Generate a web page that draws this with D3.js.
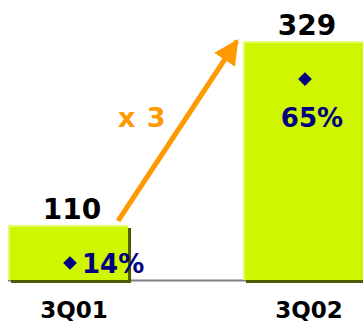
<!DOCTYPE html>
<html><head><meta charset="utf-8">
<script src="https://cdn.jsdelivr.net/npm/d3@7"></script>
<style>html,body{margin:0;padding:0;background:#fff;}svg{display:block;}</style>
</head><body>
<script>
const categories = ["3Q01", "3Q02"];
const values = [110, 329];
const percents = [14, 65];
const growthLabel = "x 3";

const W = 363, H = 327;
const svg = d3.select("body").append("svg").attr("width", W).attr("height", H);
const font = "'DejaVu Sans', Verdana, sans-serif";

const x = d3.scaleBand().domain(categories).range([8, 363]).paddingInner(0.489).paddingOuter(0);
const y = d3.scaleLinear().domain([44.5, 329]).range([280, 41]);
const y2 = d3.scaleLinear().domain([0, 80]).range([313.5, 25]);

// axis line
svg.append("line").attr("x1", 8).attr("x2", W).attr("y1", 280.5).attr("y2", 280.5)
  .attr("stroke", "#808080").attr("stroke-width", 2);

const g = svg.selectAll("g.bar").data(categories).enter().append("g").attr("class", "bar");
// shadow
g.append("rect").attr("x", d => x(d) + 3).attr("y", (d, i) => y(values[i]) + 3)
  .attr("width", x.bandwidth()).attr("height", (d, i) => 280 - y(values[i]))
  .attr("fill", "#4f5a00");
// main
g.append("rect").attr("x", d => x(d)).attr("y", (d, i) => y(values[i]))
  .attr("width", x.bandwidth()).attr("height", (d, i) => 280 - y(values[i]))
  .attr("fill", "#d0f500");
// highlight edges
g.append("path").attr("d", (d, i) => `M${x(d) + 1},280 V${y(values[i]) + 1} H${x(d) + x.bandwidth()}`)
  .attr("fill", "none").attr("stroke", "#e4fa70").attr("stroke-width", 2);

// value labels
g.append("text").attr("x", d => x(d) + x.bandwidth() / 2 + 4).attr("y", (d, i) => y(values[i]) - 6)
  .attr("text-anchor", "middle").attr("font-family", font).attr("font-weight", "bold")
  .attr("font-size", 28).attr("fill", "#000").text((d, i) => values[i]);

// category labels
g.append("text").attr("x", d => x(d) + x.bandwidth() / 2 + 6).attr("y", 318)
  .attr("text-anchor", "middle").attr("font-family", font).attr("font-weight", "bold")
  .attr("font-size", 23).attr("fill", "#000").text(d => d);

// diamonds
const diamond = d3.symbol().type(d3.symbolDiamond2).size(120);
g.append("path").attr("d", diamond)
  .attr("transform", (d, i) => `translate(${i === 0 ? x(d) + 62 : x(d) + x.bandwidth() / 2 + 2},${y2(percents[i])})`)
  .attr("fill", "#000080");

// percent labels
g.append("text")
  .attr("x", (d, i) => i === 0 ? x(d) + 74 : x(d) + x.bandwidth() / 2 + 9)
  .attr("y", (d, i) => i === 0 ? y2(percents[i]) + 10 : y2(percents[i]) + 48)
  .attr("text-anchor", (d, i) => i === 0 ? "start" : "middle")
  .attr("font-family", font).attr("font-weight", "bold").attr("font-size", 26)
  .attr("fill", "#000080").text((d, i) => percents[i] + "%");

// growth arrow
const defs = svg.append("defs");
defs.append("marker").attr("id", "ah").attr("viewBox", "0 0 10 10").attr("refX", 9).attr("refY", 5)
  .attr("markerWidth", 5).attr("markerHeight", 5).attr("orient", "auto").attr("markerUnits", "strokeWidth")
  .append("path").attr("d", "M0,0 L10,5 L0,10 Z").attr("fill", "#ff9900");
const x0 = x(categories[0]) + x.bandwidth() - 10, y0 = y(values[0]) - 4;
const x1 = x(categories[1]) - 6, y1 = y(values[1]);
svg.append("line").attr("x1", x0).attr("y1", y0).attr("x2", x1).attr("y2", y1)
  .attr("stroke", "#ff9900").attr("stroke-width", 5).attr("marker-end", "url(#ah)");

svg.append("text").attr("x", 118).attr("y", 127).attr("font-family", font).attr("font-weight", "bold")
  .attr("font-size", 27).attr("letter-spacing", 1).attr("fill", "#ff9900").text(growthLabel);
</script>
</body></html>
